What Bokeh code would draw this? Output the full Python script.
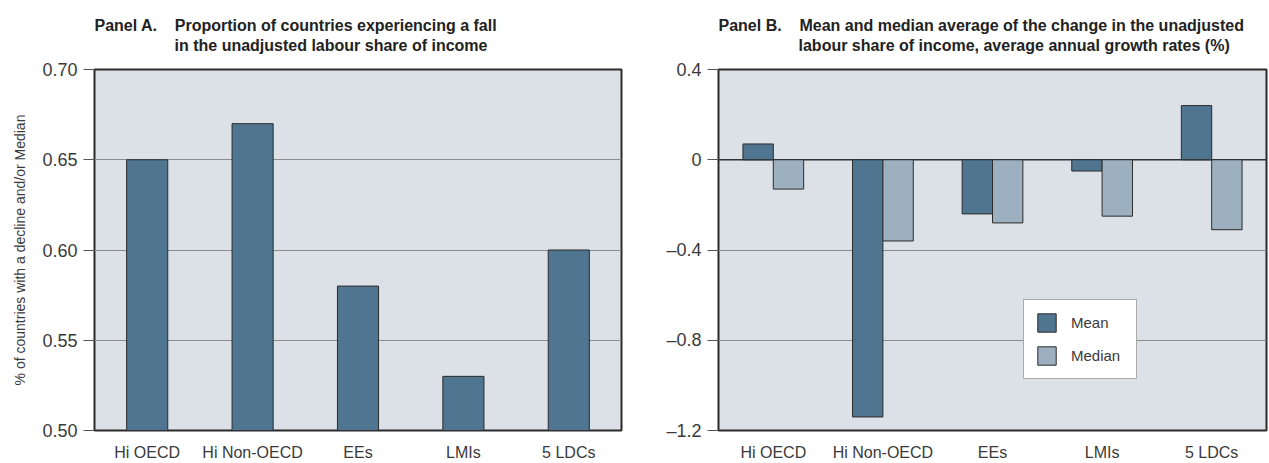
from bokeh.plotting import figure
from bokeh.models import (FactorRange, Range1d, FixedTicker, Title, Span, Legend,
                          LegendItem, ColumnDataSource, CustomJSTickFormatter)
from bokeh.transform import dodge
from bokeh.layouts import row
from bokeh.embed import file_html
from bokeh.resources import INLINE

# ---------------- data ----------------
categories = ["Hi OECD", "Hi Non-OECD", "EEs", "LMIs", "5 LDCs"]
share_falling = [0.65, 0.67, 0.58, 0.53, 0.60]          # Panel A
mean_change = [0.07, -1.14, -0.24, -0.05, 0.24]          # Panel B, Mean
median_change = [-0.13, -0.36, -0.28, -0.25, -0.31]      # Panel B, Median
a_ticks = [0.50, 0.55, 0.60, 0.65, 0.70]
a_tick_labels = ["0.50", "0.55", "0.60", "0.65", "0.70"]
b_ticks = [-1.2, -0.8, -0.4, 0.0, 0.4]
b_tick_labels = ["\u20131.2", "\u20130.8", "\u20130.4", "0", "0.4"]

# ---------------- style ----------------
BG = "#dce0e7"
MEAN_C = "#4f7590"
MEDIAN_C = "#9db0c0"
EDGE = "#2b2b2b"
GRID = "#8c8c8c"
TXT = "#3a3a3a"
FONT = "Liberation Sans"
TFONT = "Liberation Sans"
NB = "\u00a0"

FRAME_H = 362
TOP = 69
BOTTOM = 32
H = TOP + FRAME_H + BOTTOM


def make_fig(width, left, right, yr, ticks, labels):
    p = figure(x_range=FactorRange(*categories), y_range=yr, width=width, height=H,
               output_backend="svg", toolbar_location=None,
               min_border_left=left, min_border_right=right,
               min_border_top=TOP, min_border_bottom=BOTTOM)
    p.title.visible = False
    p.background_fill_color = "white"
    p.border_fill_color = "white"
    p.outline_line_color = EDGE
    p.outline_line_width = 2
    p.x_range.range_padding = 0
    p.xgrid.visible = False
    p.ygrid.grid_line_color = GRID
    p.ygrid.grid_line_width = 1
    ya = p.yaxis[0]
    ya.ticker = FixedTicker(ticks=ticks)
    ya.formatter = CustomJSTickFormatter(
        args=dict(vals=ticks, labs=labels),
        code="const i = vals.findIndex(v => Math.abs(v - tick) < 1e-9); return i >= 0 ? labs[i] : '';")
    ya.axis_line_color = None
    ya.major_tick_out = 11
    ya.major_tick_in = 0
    ya.major_tick_line_color = "#555555"
    ya.minor_tick_line_color = None
    ya.major_label_text_font = FONT
    ya.major_label_text_font_size = "18px"
    ya.major_label_text_color = TXT
    ya.major_label_standoff = 6
    xa = p.xaxis[0]
    xa.axis_line_color = None
    xa.major_tick_line_color = None
    xa.minor_tick_line_color = None
    xa.major_label_text_font = FONT
    xa.major_label_text_font_size = "16px"
    xa.major_label_text_color = TXT
    xa.major_label_standoff = 7
    return p


def add_title(p, head, line1, line2):
    text = head + NB * 4 + line1 + "\n" + NB * 18 + line2
    p.add_layout(Title(text=text, align="left", offset=0, standoff=30,
                       text_font=TFONT, text_font_size="16px", text_font_style="bold",
                       text_color="#222222", text_line_height=1.2), "above")


# ---------------- Panel A ----------------
pa = make_fig(641, 94, 20, Range1d(0.50, 0.70), a_ticks, a_tick_labels)
pa.background_fill_color = BG
pa.ygrid.ticker = FixedTicker(ticks=[0.55, 0.60, 0.65])
src_a = ColumnDataSource(dict(cat=categories, val=share_falling))
pa.vbar(x="cat", top="val", bottom=0.50, width=0.39, source=src_a,
        fill_color=MEAN_C, line_color=EDGE, line_width=1)
pa.yaxis.axis_label = "% of countries with a decline and/or Median"
pa.yaxis.axis_label_text_font = FONT
pa.yaxis.axis_label_text_font_size = "14px"
pa.yaxis.axis_label_text_font_style = "normal"
pa.yaxis.axis_label_text_color = TXT
pa.yaxis.axis_label_standoff = 11
add_title(pa, "Panel A.", "Proportion of countries experiencing a fall",
          "in the unadjusted labour share of income")

# ---------------- Panel B ----------------
pb = make_fig(627, 77, 2, Range1d(-1.2, 0.4), b_ticks, b_tick_labels)
pb.background_fill_color = BG
pb.ygrid.ticker = FixedTicker(ticks=[-0.8, -0.4])
pb.add_layout(Span(location=0, dimension="width", line_color="#333333",
                   line_width=1.5, level="underlay"))
src_b = ColumnDataSource(dict(cat=categories, mean=mean_change, median=median_change))
r_mean = pb.vbar(x=dodge("cat", -0.1385, range=pb.x_range), top="mean", bottom=0,
                 width=0.277, source=src_b, fill_color=MEAN_C, line_color=EDGE, line_width=1)
r_med = pb.vbar(x=dodge("cat", 0.1385, range=pb.x_range), top="median", bottom=0,
                width=0.277, source=src_b, fill_color=MEDIAN_C, line_color=EDGE, line_width=1)
legend = Legend(items=[LegendItem(label="Mean", renderers=[r_mean]),
                       LegendItem(label="Median", renderers=[r_med])],
                location=(305, 51), orientation="vertical",
                glyph_width=23, glyph_height=23, label_height=23, label_width=54,
                spacing=10, padding=11, label_standoff=13, margin=0,
                label_text_font=FONT, label_text_font_size="15px", label_text_color=TXT,
                border_line_color="#555555", border_line_width=1.5,
                background_fill_color="white", background_fill_alpha=1)
pb.add_layout(legend)
add_title(pb, "Panel B.", "Mean and median average of the change in the unadjusted",
          "labour share of income, average annual growth rates (%)")

layout = row(pa, pb)
open("out.html", "w").write(file_html(layout, INLINE))
